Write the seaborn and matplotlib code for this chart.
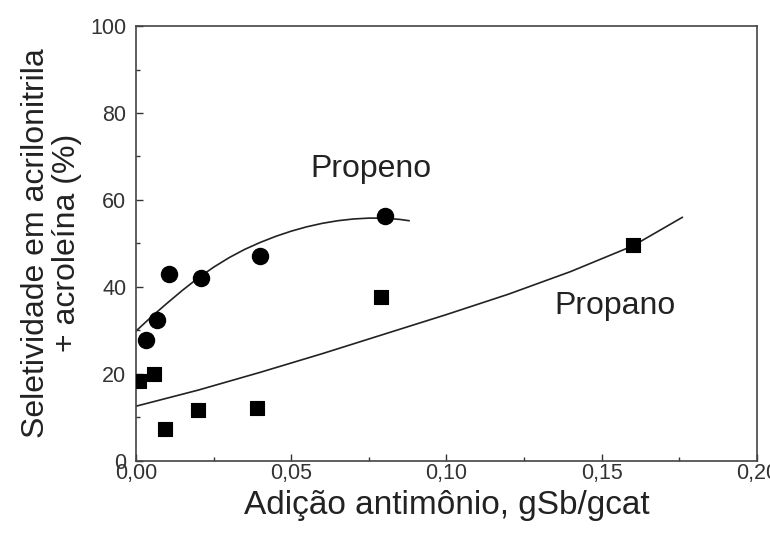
import numpy as np
import pandas as pd
import seaborn as sns
import matplotlib
matplotlib.use("Agg")
import matplotlib.pyplot as plt
from matplotlib.ticker import MultipleLocator, FuncFormatter

# measured points
propeno_x = [0.0031, 0.0067, 0.0105, 0.021, 0.0401, 0.0801]
propeno_y = [27.8, 32.4, 42.9, 42.1, 47.0, 56.2]
propano_x = [0.001, 0.0059, 0.0094, 0.0199, 0.0389, 0.079, 0.160]
propano_y = [18.3, 19.9, 7.2, 11.7, 12.2, 37.7, 49.6]

# fitted curves
propeno_fit_x = [0.0, 0.005, 0.01, 0.015, 0.02, 0.025, 0.03, 0.035, 0.04, 0.045,
                 0.05, 0.055, 0.06, 0.065, 0.07, 0.075, 0.08, 0.085, 0.088]
propeno_fit_y = [29.8, 33.1, 36.2, 39.2, 42.0, 44.5, 46.7, 48.6, 50.2, 51.6,
                 52.8, 53.8, 54.6, 55.2, 55.6, 55.8, 55.8, 55.5, 55.2]
propano_fit_x = [0.0, 0.02, 0.04, 0.06, 0.08, 0.10, 0.12, 0.14, 0.16, 0.176]
propano_fit_y = [12.5, 16.2, 20.3, 24.6, 29.1, 33.6, 38.3, 43.5, 49.4, 56.0]

sns.set_style("ticks")
plt.rcParams['font.family'] = ['Liberation Sans', 'DejaVu Sans']

fig = plt.figure(figsize=(7.7, 5.33), dpi=100)
ax = fig.add_axes([0.1766, 0.136, 0.8065, 0.815])

pts_eno = pd.DataFrame({"x": propeno_x, "y": propeno_y})
pts_ano = pd.DataFrame({"x": propano_x, "y": propano_y})
fit_eno = pd.DataFrame({"x": propeno_fit_x, "y": propeno_fit_y})
fit_ano = pd.DataFrame({"x": propano_fit_x, "y": propano_fit_y})

sns.lineplot(data=fit_eno, x="x", y="y", ax=ax, color="#222222", lw=1.2,
             estimator=None, sort=False)
sns.lineplot(data=fit_ano, x="x", y="y", ax=ax, color="#222222", lw=1.2,
             estimator=None, sort=False)
sns.scatterplot(data=pts_eno, x="x", y="y", ax=ax, marker="o", s=135,
                color="black", edgecolor="black", zorder=3)
sns.scatterplot(data=pts_ano, x="x", y="y", ax=ax, marker="s", s=100,
                color="black", edgecolor="black", zorder=3)

ax.text(0.0758, 67.1, "Propeno", fontsize=23, ha="center", va="center", color="#222222")
ax.text(0.1542, 35.5, "Propano", fontsize=23, ha="center", va="center", color="#222222")

ax.set_xlim(0, 0.20)
ax.set_ylim(0, 100)
ax.xaxis.set_major_locator(MultipleLocator(0.05))
ax.xaxis.set_minor_locator(MultipleLocator(0.025))
ax.yaxis.set_major_locator(MultipleLocator(20))
ax.yaxis.set_minor_locator(MultipleLocator(10))
ax.xaxis.set_major_formatter(FuncFormatter(lambda v, p: f"{v:.2f}".replace(".", ",")))
ax.tick_params(which="both", direction="in", top=False, right=False,
               labelsize=15.5, colors="#333333", width=1)
ax.tick_params(which="major", length=5)
ax.tick_params(which="minor", length=3)
ax.tick_params(axis="x", pad=2)
ax.tick_params(axis="y", pad=7)
for s in ax.spines.values():
    s.set_color("#444444")
    s.set_linewidth(1.2)
    s.set_visible(True)

ax.set_xlabel("Adição antimônio, gSb/gcat", fontsize=24, color="#222222", labelpad=4)
ax.set_ylabel("Seletividade em acrilonitrila\n+ acroleína (%)", fontsize=23,
              color="#222222", labelpad=6, linespacing=1.05)

fig.savefig("out.png", dpi=100)
